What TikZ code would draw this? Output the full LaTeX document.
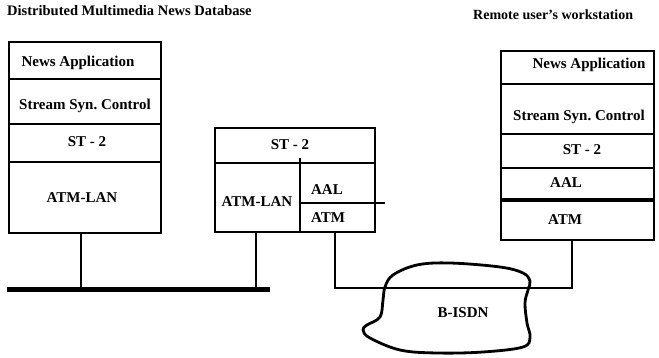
\documentclass[tikz,border=0pt]{standalone}
\usepackage{fontspec}
\setmainfont{Liberation Serif}
\begin{document}
\begin{tikzpicture}[x=1pt,y=-1pt,
  frame/.style={draw,line width=2.5pt,inner sep=0pt,rectangle},
  lay/.style={font=\fontsize{15}{17}\selectfont\bfseries,inner sep=0pt,anchor=center},
  ttl/.style={font=\fontsize{14.5}{17}\selectfont\bfseries,inner sep=0pt},
  wire/.style={line width=2.5pt},
  div/.style={line width=2.2pt}]
\useasboundingbox (0,0) rectangle (659,358);

% titles
\node[ttl,anchor=west] (t1) at (7,11) {Distributed Multimedia News Database};
\node[ttl,anchor=west,font=\fontsize{14}{17}\selectfont\bfseries] (t2) at (473,15) {Remote user's workstation};

% left stack
\node[frame,minimum width=152pt,minimum height=191pt] (L) at (85,137.5) {};
\draw[div] (9,79) -- (161,79);
\draw[div] (9,124) -- (161,124);
\draw[div] (9,162) -- (161,162);
\node[lay] (l1) at (78,63) {News Application};
\node[lay] (l2) at (85,106) {Stream Syn.\ Control};
\node[lay] (l3) at (87,142) {ST - 2};
\node[lay] (l4) at (82,198) {ATM-LAN};

% middle stack
\node[frame,minimum width=160pt,minimum height=104pt] (M) at (295,180) {};
\draw[div] (215,163) -- (375,163);
\draw[div] (300,158) -- (300,232);
\draw[div] (300,203) -- (385,203);
\node[lay] (m1) at (290,145) {ST - 2};
\node[lay] (m2) at (257,202) {ATM-LAN};
\node[lay] (m3) at (327,190) {AAL};
\node[lay] (m4) at (328,218) {ATM};

% right stack
\node[frame,minimum width=153pt,minimum height=189pt] (R) at (577.5,145.5) {};
\draw[div] (501,84) -- (654,84);
\draw[div] (501,134) -- (654,134);
\draw[div] (501,168) -- (654,168);
\draw[line width=3.5pt] (501,200) -- (654,200);
\node[lay] (r1) at (589,65) {News Application};
\node[lay] (r2) at (579,117) {Stream Syn.\ Control};
\node[lay] (r3) at (582,150) {ST - 2};
\node[lay] (r4) at (566,183) {AAL};
\node[lay] (r5) at (565,220) {ATM};

% LAN bus
\coordinate (busL) at (7,290);
\coordinate (busR) at (270,290);
\draw[line width=5pt] (busL) -- (busR);
\draw[wire] (81,233) -- (81,290);
\draw[wire] (256,232) -- (256,290);

% B-ISDN link
\coordinate (k1) at (335,232);
\coordinate (k2) at (572,240);
\draw[wire] (k1) -- (335,288) -- (572,288) -- (k2);

% cloud
\draw[line width=2.8pt] plot[smooth cycle,tension=0.6] coordinates {
 (385,287) (393,275) (417,265) (450,263) (500,267) (523,273) (530,281)
 (528,290) (525,303) (527,323) (530,337) (523,347) (483,352) (437,353)
 (400,350) (370,338) (363,330) (367,325) (380,317) (383,300)};
\node[lay] (net) at (463,313) {B-ISDN};
\end{tikzpicture}
\end{document}
